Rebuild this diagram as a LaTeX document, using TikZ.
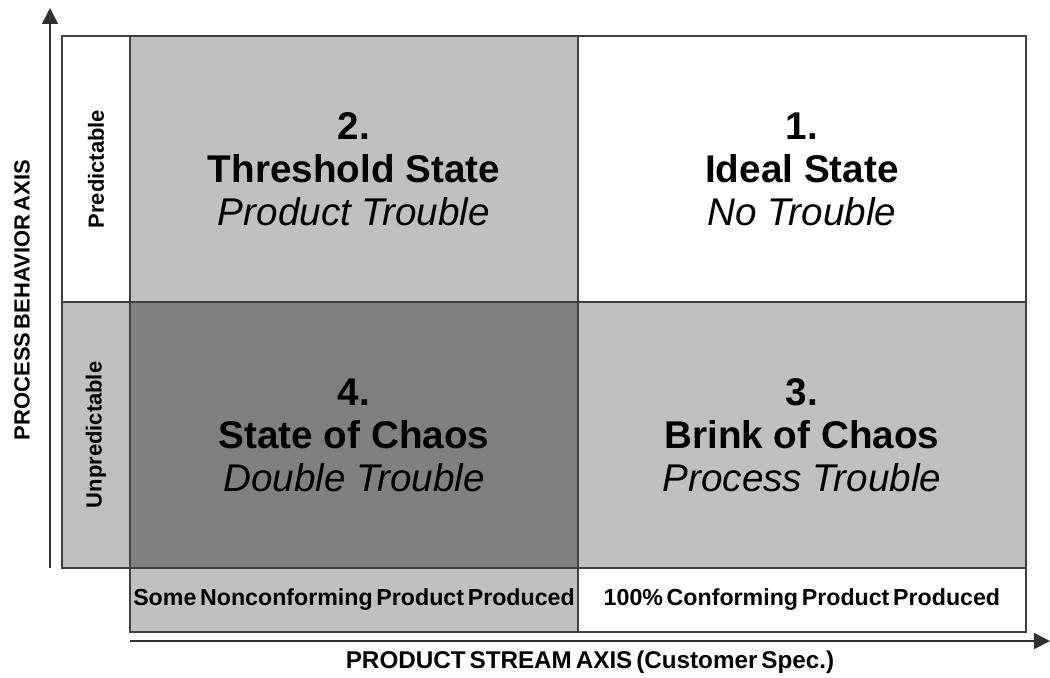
\documentclass[tikz,border=0pt]{standalone}
\usepackage{fontspec}
\setmainfont{Liberation Sans}
\usetikzlibrary{positioning,arrows.meta}
\definecolor{lightgrey}{HTML}{C0C0C0}
\definecolor{darkgrey}{HTML}{808080}
\definecolor{edgegrey}{HTML}{404040}
\definecolor{axisgrey}{HTML}{303030}
\newcommand{\tightspace}{\spaceskip=0.16em plus 0.05em}

\begin{document}
\begin{tikzpicture}[x=0.02cm,y=-0.02cm,
    cell/.style={draw=edgegrey, line width=0.7pt, outer sep=0pt, inner sep=0pt,
        minimum width=8.96cm, minimum height=5.32cm, align=center,
        font=\fontsize{22}{24.5}\selectfont},
    side/.style={draw=edgegrey, line width=0.7pt, outer sep=0pt, inner sep=0pt,
        minimum width=5.32cm, minimum height=1.36cm, rotate=90,
        font=\bfseries\fontsize{12.5}{14}\selectfont},
    foot/.style={draw=edgegrey, line width=0.7pt, outer sep=0pt, inner sep=0pt,
        minimum width=8.96cm, minimum height=1.28cm,
        font=\bfseries\fontsize{13.2}{15}\selectfont\tightspace},
    axis/.style={draw=axisgrey, line width=0.9pt, -{Triangle[length=9pt,width=9pt]}},
    axislabel/.style={font=\bfseries\fontsize{12.5}{14}\selectfont\tightspace}
]
    \useasboundingbox (0,0) rectangle (1050,677);

    % quadrants
    \node[cell, fill=lightgrey] (q2) at (354,169) {\textbf{2.}\\\textbf{Threshold State}\\\textit{Product Trouble}};
    \node[cell, fill=white, right=0pt of q2] (q1) {\textbf{1.}\\\textbf{Ideal State}\\\textit{No Trouble}};
    \node[cell, fill=darkgrey, below=0pt of q2] (q4) {\textbf{4.}\\\textbf{State of Chaos}\\\textit{Double Trouble}};
    \node[cell, fill=lightgrey, right=0pt of q4] (q3) {\textbf{3.}\\\textbf{Brink of Chaos}\\\textit{Process Trouble}};

    % row and column labels
    \node[side, fill=white, anchor=south] (pred) at (q2.west) {Predictable};
    \node[side, fill=lightgrey, anchor=south] (unpred) at (q4.west) {Unpredictable};
    \node[foot, fill=lightgrey, below=0pt of q4] (nonconf) {Some Nonconforming Product Produced};
    \node[foot, fill=white, below=0pt of q3] (conf) {100\% Conforming Product Produced};

    % axes
    \coordinate (yfoot) at (50,568);
    \coordinate (ytip) at (50,8);
    \coordinate (xfoot) at (130,641);
    \coordinate (xtip) at (1050,641);
    \draw[axis] (yfoot) -- (ytip);
    \draw[axis] (xfoot) -- (xtip);
    \node[axislabel, rotate=90] (ylabel) at (22,300) {PROCESS BEHAVIOR AXIS};
    \node[axislabel, font=\bfseries\fontsize{13.8}{15}\selectfont\tightspace] (xlabel) at (590,662) {PRODUCT STREAM AXIS (Customer Spec.)};
\end{tikzpicture}
\end{document}
